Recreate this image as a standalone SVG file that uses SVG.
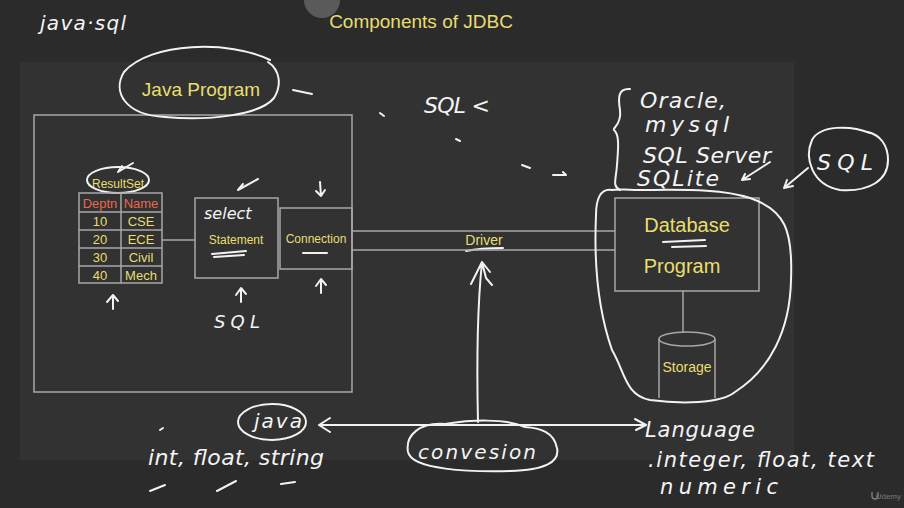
<svg xmlns="http://www.w3.org/2000/svg" width="904" height="508" viewBox="0 0 904 508">
<defs>
<style>
.box{fill:none;stroke:#a8a8a8;stroke-width:1.5}
.ln{stroke:#a8a8a8;stroke-width:1.5;fill:none}
.y{fill:#e8de70;font-family:"Liberation Sans",Arial,sans-serif}
.r{fill:#e8684e;font-family:"Liberation Sans",Arial,sans-serif}
.hw{fill:none;stroke:#f2f2f2;stroke-width:2;stroke-linecap:round;stroke-linejoin:round}
.ht{fill:#f4f4f4;font-family:"DejaVu Sans",sans-serif;font-style:italic}
</style>
</defs>
<rect width="904" height="508" fill="#2b2b2b"/>
<rect x="20" y="62" width="774" height="398" fill="#323232"/>
<circle cx="322" cy="0" r="18" fill="#5a5a5a"/>
<text class="y" x="421" y="28" font-size="19" text-anchor="middle">Components of JDBC</text>
<text class="ht" x="40" y="30" font-size="20" textLength="86">java·sql</text>

<g id="java-program">
<rect class="box" x="34" y="115" width="318" height="277"/>
<text class="y" x="201" y="96" font-size="19" text-anchor="middle">Java Program</text>
<path class="hw" d="M270 60 C230 40 150 42 124 72 C112 92 125 115 165 117 C210 121 260 115 274 98 C282 85 280 70 268 62"/>
<path class="hw" d="M293 90 L312 94"/>
</g>

<g id="resultset">
<text class="y" x="118" y="188" font-size="12" text-anchor="middle">ResultSet</text>
<ellipse class="hw" cx="118" cy="180" rx="31" ry="13" stroke-width="1.6"/>
<path class="hw" d="M118 172 L133 163 M118 172 L122 166" stroke-width="1.6"/>
<rect class="box" x="79" y="193" width="83" height="90"/>
<path class="ln" d="M121 193 V283 M79 212 H162 M79 230 H162 M79 248 H162 M79 266 H162"/>
<text class="r" x="100" y="208" font-size="13" text-anchor="middle">Deptn</text>
<text class="r" x="141" y="208" font-size="13" text-anchor="middle">Name</text>
<g class="y" font-size="13" text-anchor="middle">
<text x="100" y="226">10</text><text x="141" y="226">CSE</text>
<text x="100" y="244">20</text><text x="141" y="244">ECE</text>
<text x="100" y="262">30</text><text x="141" y="262">Civil</text>
<text x="100" y="280">40</text><text x="141" y="280">Mech</text>
</g>
<path class="hw" d="M113 309 V296 M107 302 L113 295 L118 301" stroke-width="1.6"/>
</g>

<g id="statement">
<rect class="box" x="195" y="198" width="83" height="80"/>
<text class="y" x="236" y="244" font-size="12" text-anchor="middle">Statement</text>
<text class="ht" x="204" y="219" font-size="16">select</text>
<path class="hw" d="M212 254 L246 251 M214 257 L244 255" stroke-width="1.6"/>
<path class="hw" d="M238 190 L258 179 M238 190 L243 184" stroke-width="1.6"/>
<path class="hw" d="M241 302 V289 M236 295 L241 288 L246 294" stroke-width="1.6"/>
<text class="ht" x="214" y="328" font-size="18" textLength="46">SQL</text>
</g>

<g id="connection">
<rect class="box" x="280" y="208" width="72" height="61"/>
<text class="y" x="316" y="243" font-size="12" text-anchor="middle">Connection</text>
<path class="hw" d="M303 253 L327 253" stroke-width="3"/>
<path class="hw" d="M320 182 L321 196 M316 191 L321 196 L325 190" stroke-width="1.6"/>
<path class="hw" d="M321 293 V280 M316 286 L321 279 L326 285" stroke-width="1.6"/>
</g>

<g id="driver">
<text class="y" x="484" y="245" font-size="14" text-anchor="middle">Driver</text>
<path class="hw" d="M466 251 C480 248 494 248 503 248" stroke-width="1.6"/>
</g>

<g id="database-program">
<rect class="box" x="615" y="198" width="144" height="93"/>
<text class="y" x="687" y="232" font-size="20" text-anchor="middle">Database</text>
<text class="y" x="682" y="273" font-size="20" text-anchor="middle">Program</text>
<path class="hw" d="M663 242 L705 240 M672 247 L706 246" stroke-width="1.6"/>
</g>

<g id="storage">
<path class="box" d="M659 339 V398 M715 339 V398"/>
<ellipse class="box" cx="687" cy="339" rx="28" ry="7"/>
<text class="y" x="687" y="372" font-size="14" text-anchor="middle">Storage</text>
</g>

<g id="connectors">
<path class="ln" d="M162 240 H195"/>
<path class="ln" d="M352 231 H615 M352 250 H615"/>
<path class="ln" d="M683 291 V332"/>
<path class="hw" d="M478 422 C477 380 476 320 482 262 M471 284 L482 262 L490 272 M482 262 L486 278 L492 285" stroke-width="1.8"/>
<path class="hw" d="M320 425 H646 M330 418 L319 425 L330 432 M635 419 L646 425 L636 430" stroke-width="1.8"/>
</g>

<g id="db-outline">
<path class="hw" d="M612 190 C600 188 596 200 596 215 C594 260 598 310 612 350 C625 372 625 395 650 400 C680 404 720 404 735 392 C770 370 790 330 791 280 C793 230 785 210 750 198 C720 188 680 190 635 190 C622 189 615 190 612 190"/>
</g>

<g id="db-list">
<path class="hw" d="M630 89 C618 88 618 98 620 110 C622 125 612 128 614 130 C620 135 618 150 617 165 C616 180 612 186 620 190"/>
<text class="ht" x="640" y="108" font-size="22" textLength="86">Oracle,</text>
<text class="ht" x="645" y="132" font-size="22" textLength="84">mysql</text>
<text class="ht" x="643" y="163" font-size="22" textLength="128">SQL Server</text>
<text class="ht" x="637" y="186" font-size="22" textLength="82">SQLite</text>
<path class="hw" d="M770 162 L742 180 M742 180 L750 179 M742 180 L745 174" stroke-width="1.6"/>
</g>

<g id="sql-circle">
<path class="hw" d="M870 133 C850 125 820 125 812 140 C804 158 812 185 840 190 C870 192 888 180 888 160 C888 145 880 135 868 132"/>
<text class="ht" x="817" y="170" font-size="22" textLength="56">SQL</text>
<path class="hw" d="M808 168 L784 188 M784 188 L793 186 M784 188 L787 180" stroke-width="1.6"/>
</g>

<g id="sql-flow">
<text class="ht" x="424" y="113" font-size="22" textLength="66">SQL &lt;</text>
<path class="hw" d="M380 113 L384 116 M456 139 L460 141 M522 165 L530 168 M553 175 L566 175 L563 172" stroke-width="1.6"/>
</g>

<g id="java-types">
<ellipse class="hw" cx="272" cy="422" rx="34" ry="18"/>
<text class="ht" x="254" y="428" font-size="20" textLength="48">java</text>
<text class="ht" x="148" y="465" font-size="22" textLength="176">int, float, string</text>
<path class="hw" d="M160 430 L163 428 M150 491 L165 485 M217 491 L236 481 M281 484 L295 482" stroke-width="1.6"/>
</g>

<g id="conversion">
<path class="hw" d="M445 424 C420 422 405 435 408 452 C412 470 470 472 510 471 C545 470 560 462 557 448 C554 432 540 428 525 427 C505 418 470 420 445 424"/>
<text class="ht" x="418" y="459" font-size="20" textLength="118">convesion</text>
</g>

<g id="db-types">
<text class="ht" x="645" y="437" font-size="21" textLength="110">Language</text>
<text class="ht" x="648" y="467" font-size="21" textLength="226">.integer, float, text</text>
<text class="ht" x="660" y="494" font-size="21" textLength="118">numeric</text>
</g>

<path d="M872 492 v4 a3 3 0 0 0 6 0 v-4" fill="none" stroke="#7a7a7a" stroke-width="1.5"/>
<text x="901" y="499" font-family="Liberation Sans, sans-serif" font-size="8" fill="#7a7a7a" text-anchor="end">Udemy</text>
</svg>
